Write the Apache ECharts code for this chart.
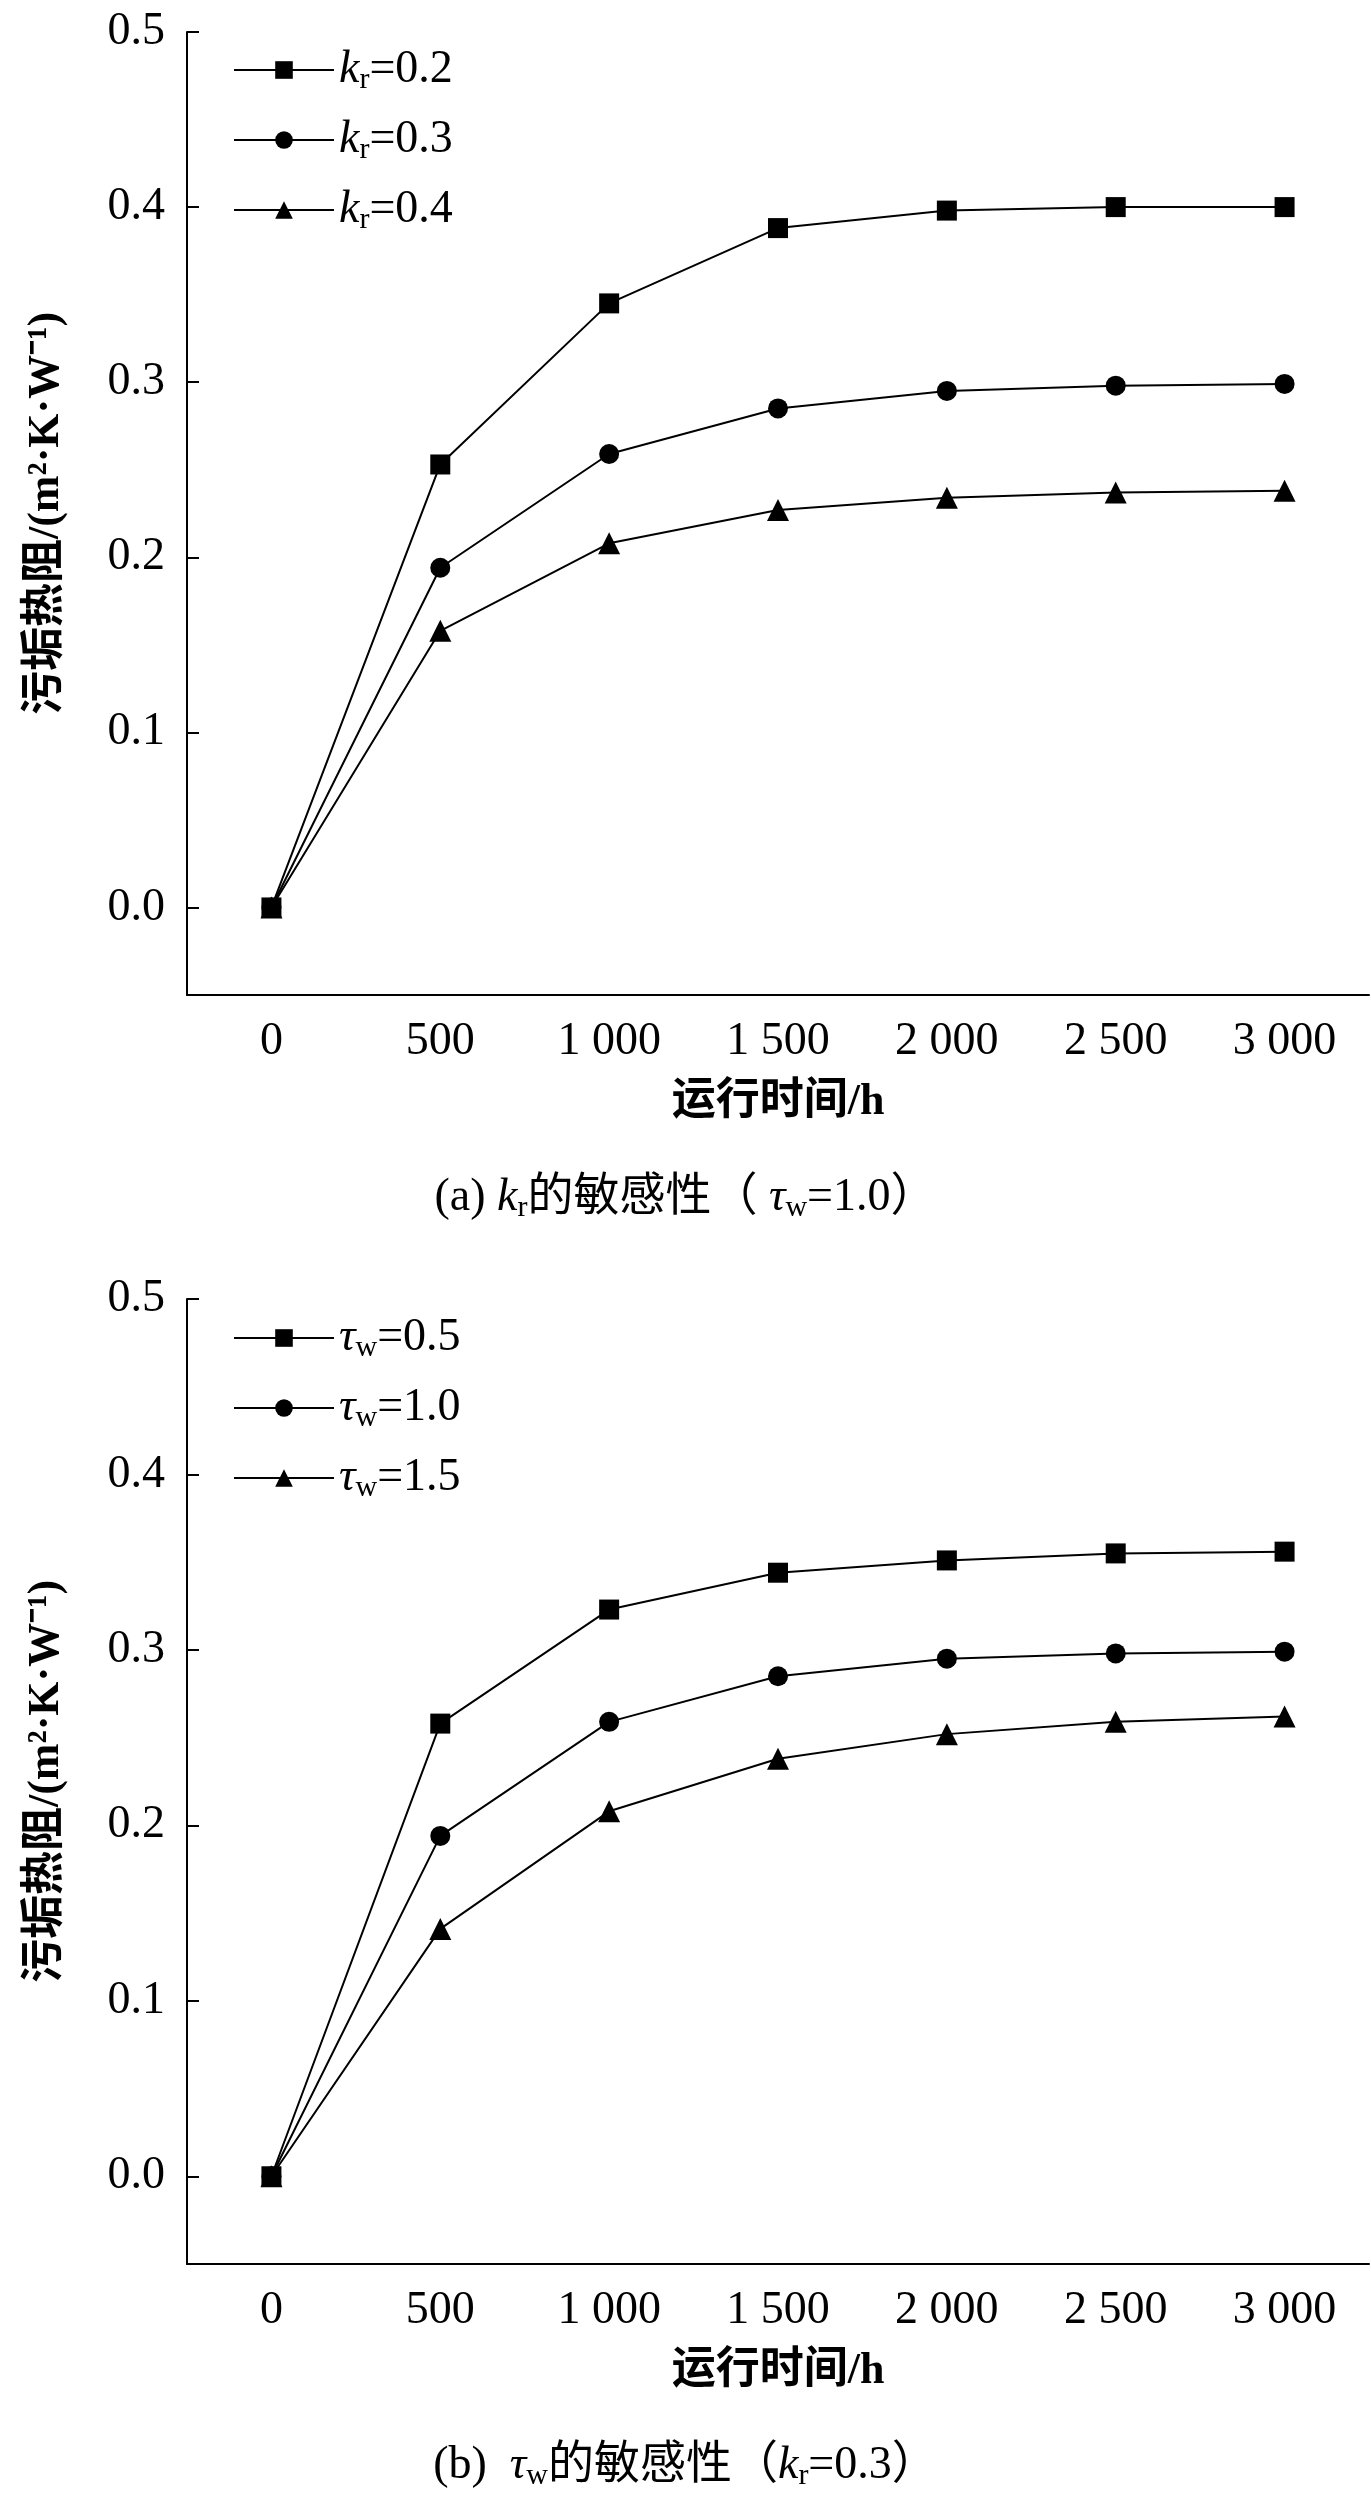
<!DOCTYPE html>
<html>
<head>
<meta charset="UTF-8">
<script src="https://cdn.jsdelivr.net/npm/echarts@6/dist/echarts.min.js"></script>
<style>html,body{margin:0;padding:0;background:#fff}</style>
</head>
<body>
<div id="chart" style="width:1371px;height:2508px"></div>
<script>
var hours = ['0', '500', '1 000', '1 500', '2 000', '2 500', '3 000'];
var yTicks = [0, 0.1, 0.2, 0.3, 0.4, 0.5];

// (a) k_r 敏感性
var kr02 = [0, 0.253, 0.345, 0.388, 0.398, 0.400, 0.400];
var kr03 = [0, 0.194, 0.259, 0.285, 0.295, 0.298, 0.299];
var kr04 = [0, 0.158, 0.208, 0.227, 0.234, 0.237, 0.238];
// (b) tau_w 敏感性
var tw05 = [0, 0.258, 0.323, 0.344, 0.351, 0.355, 0.356];
var tw10 = [0, 0.194, 0.259, 0.285, 0.295, 0.298, 0.299];
var tw15 = [0, 0.141, 0.208, 0.238, 0.252, 0.259, 0.262];

var FONT = '"Liberation Serif","Noto Sans CJK SC",serif';
var rich = {
  it: {fontStyle: 'italic', fontSize: 46, fontFamily: FONT, color: '#000'},
  sub: {fontSize: 30, fontFamily: FONT, color: '#000', verticalAlign: 'bottom', padding: [20, 0, 0, 0]},
  n: {fontSize: 46, fontFamily: FONT, color: '#000'}
};

var grids = [
  {left: 187, right: 2, top: 32, height: 963},
  {left: 187, right: 2, top: 1299, height: 965}
];

function xAxis(i) {
  return {
    gridIndex: i, type: 'category', data: hours, boundaryGap: true,
    axisLine: {onZero: false, lineStyle: {color: '#000', width: 2}},
    axisTick: {alignWithLabel: true, inside: true, length: 10, lineStyle: {color: '#000', width: 2}},
    axisLabel: {color: '#000', fontSize: 46, fontFamily: FONT, margin: 24},
    name: '运行时间/h', nameLocation: 'middle', nameGap: 86,
    nameTextStyle: {color: '#000', fontSize: 44, fontWeight: 'bold', fontFamily: FONT}
  };
}
function yAxis(i) {
  return {
    gridIndex: i, type: 'value', min: -0.05, max: 0.5, interval: 0.1,
    axisLine: {show: true, lineStyle: {color: '#000', width: 2}},
    axisTick: {show: true, inside: true, length: 12, lineStyle: {color: '#000', width: 2},
      customValues: yTicks},
    minorTick: {show: true, splitNumber: 2, length: 7, lineStyle: {color: '#000', width: 2}},
    splitLine: {show: false},
    axisLabel: {color: '#000', fontSize: 46, fontFamily: FONT, margin: 22,
      customValues: yTicks,
      formatter: function (v) { return v.toFixed(1); }},
    name: '污垢热阻/(m²·K·W⁻¹)', nameLocation: 'middle', nameGap: 118, nameRotate: 90,
    nameTextStyle: {color: '#000', fontSize: 44, fontWeight: 'bold', fontFamily: FONT}
  };
}
var symbols = ['rect', 'circle', 'triangle'];
function series(name, data, i, k) {
  return {
    name: name, type: 'line', xAxisIndex: i, yAxisIndex: i, data: data,
    symbol: symbols[k], symbolSize: k === 2 ? 22 : 20,
    itemStyle: {color: '#000'}, lineStyle: {color: '#000', width: 2}
  };
}
function legend(i, names, fmt) {
  return {
    top: i === 0 ? 42 : 1310, left: 228, orient: 'vertical', itemGap: 22,
    itemWidth: 100, itemHeight: 22, data: names,
    formatter: fmt, textStyle: {rich: rich, fontSize: 46}
  };
}
var krNames = ['kr=0.2', 'kr=0.3', 'kr=0.4'];
var twNames = ['tw=0.5', 'tw=1.0', 'tw=1.5'];

var chart = echarts.init(document.getElementById('chart'));
chart.setOption({
  animation: false,
  grid: grids,
  xAxis: [xAxis(0), xAxis(1)],
  yAxis: [yAxis(0), yAxis(1)],
  legend: [
    legend(0, krNames, function (n) { return '{it|k}{sub|r}{n|' + n.slice(2) + '}'; }),
    legend(1, twNames, function (n) { return '{it|τ}{sub|w}{n|' + n.slice(2) + '}'; })
  ],
  title: [
    {text: '{n|(a) }{it|k}{sub|r}{n|的敏感性（ }{it|τ}{sub|w}{n|=1.0）}', left: 'center', top: 1168,
      textStyle: {rich: rich, fontWeight: 'normal'}},
    {text: '{n|(b)  }{it|τ}{sub|w}{n|的敏感性（}{it|k}{sub|r}{n|=0.3）}', left: 'center', top: 2436,
      textStyle: {rich: rich, fontWeight: 'normal'}}
  ],
  series: [
    series(krNames[0], kr02, 0, 0), series(krNames[1], kr03, 0, 1), series(krNames[2], kr04, 0, 2),
    series(twNames[0], tw05, 1, 0), series(twNames[1], tw10, 1, 1), series(twNames[2], tw15, 1, 2)
  ]
});
</script>
</body>
</html>
